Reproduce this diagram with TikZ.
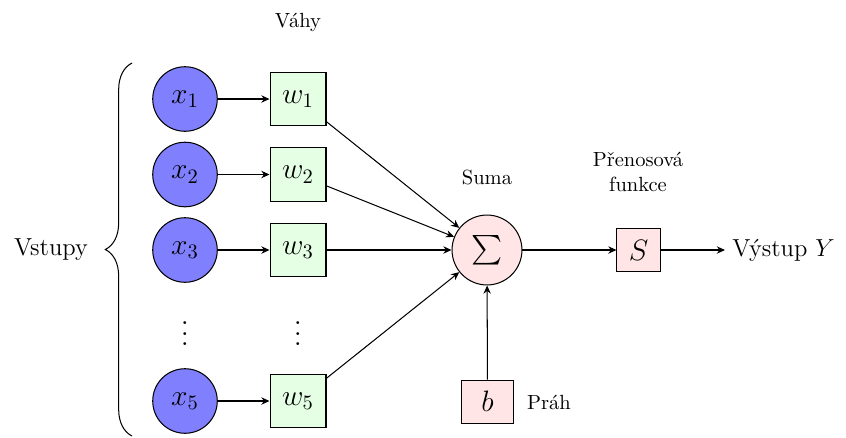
\documentclass[tikz,border=0pt]{standalone}
\usepackage{amsmath}
\usepackage{fontspec}
\usetikzlibrary{decorations.pathreplacing,arrows.meta}
% vertical ellipsis with a slightly wider dot spacing
\newcommand\colvdots{\vbox{\baselineskip5.1pt\lineskiplimit0pt\hbox{.}\hbox{.}\hbox{.}}}
\begin{document}
\begin{tikzpicture}[x=0.4878pt, y=-0.4878pt, line width=0.5pt,
  inpnode/.style={draw, circle, fill=blue!50, minimum size=31.5pt, inner sep=0pt, font=\Large},
  weightbox/.style={draw, fill=green!10, minimum width=27.3pt, minimum height=25.9pt, inner sep=0pt, font=\Large},
  sumnode/.style={draw, circle, fill=red!10, minimum size=34.1pt, inner sep=0pt, font=\Large},
  pinkbox/.style={draw, fill=red!10, inner sep=0pt, font=\Large},
  dotsnode/.style={inner sep=0pt, font=\Large},
  arr/.style={-{Stealth[length=4pt, width=3.6pt, inset=1.3pt]}}
]
\useasboundingbox (0,0) rectangle (846,437);

% inputs
\node[inpnode] (x1) at (185,99) {$x_1$};
\node[inpnode] (x2) at (185,174.5) {$x_2$};
\node[inpnode] (x3) at (185,250) {$x_3$};
\node[dotsnode] (xd) at (185,334) {\colvdots};
\node[inpnode] (x5) at (185,401) {$x_5$};

% weights
\node[weightbox] (w1) at (298,99) {$w_1$};
\node[weightbox] (w2) at (298,174.5) {$w_2$};
\node[weightbox] (w3) at (298,250) {$w_3$};
\node[dotsnode] (wd) at (298,334) {\colvdots};
\node[weightbox] (w5) at (298,401) {$w_5$};

% summation, activation, bias, output
\node[sumnode] (sum) at (487,250) {$\sum$};
\node[pinkbox, minimum size=21pt] (act) at (638.5,250) {$S$};
\node[pinkbox, minimum width=25.2pt, minimum height=21.1pt] (bias) at (487.5,401.7) {$b$};
\node[font=\large, anchor=west] (out) at (725,250) {Výstup $Y$};

% labels
\node (lw) at (298,22) {Váhy};
\node (ls) at (487,177) {Suma};
\node[align=center] (lf) at (638,172) {Přenosová\\funkce};
\node (lb) at (549,402) {Práh};
\node[font=\large] (lin) at (51,250) {Vstupy};

% brace grouping the inputs
\coordinate (bt) at (132,63);
\coordinate (bb) at (132,436);
\draw[decorate, decoration={brace, amplitude=13pt}] (bb) -- (bt);

% connections
\foreach \i in {1,2,3,5} {
  \draw[arr] (x\i) -- (w\i);
  \draw[arr] (w\i) -- (sum);
}
\draw[arr] (sum) -- (act);
\draw[arr] (act) -- (out);
\draw[arr] (bias) -- (sum);
\end{tikzpicture}
\end{document}
